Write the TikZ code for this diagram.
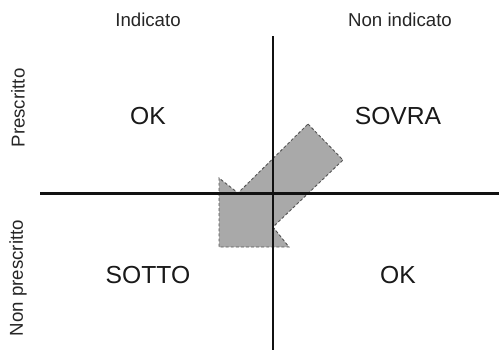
\documentclass[tikz,border=0pt]{standalone}
\usepackage{fontspec}
\setmainfont{Liberation Sans}
\usetikzlibrary{positioning,calc}
\definecolor{qaxis}{HTML}{111111}
\definecolor{qfill}{HTML}{A9A9A9}
\definecolor{qedge}{HTML}{555555}
\tikzset{
  head/.style={font=\fontsize{14}{16}\selectfont, text=black!85},
  side/.style={head, rotate=90},
  cell/.style={font=\fontsize{18.5}{20}\selectfont, text=black!90},
  axis/.style={draw=qaxis, line width=1.6pt},
  move/.style={fill=qfill, draw=qedge, line width=0.7pt, dash pattern=on 2.2pt off 1.6pt},
}

\begin{document}
\begin{tikzpicture}[x=0.75pt, y=-0.75pt]
  \useasboundingbox (0,0) rectangle (499,350);
  % column and row headings
  \node[head] (ind) at (148,20) {Indicato};
  \node[head] (nind) at (400,20) {Non indicato};
  \node[side] (pre) at (18,108) {Prescritto};
  \node[side] (npre) at (18,278) {Non prescritto};
  % quadrants
  \node[cell] (okA) at (148,116) {OK};
  \node[cell] (sovra) at (398,116) {SOVRA};
  \node[cell] (sotto) at (148,275) {SOTTO};
  \node[cell] (okB) at (398,275) {OK};

  % shift arrow
  \coordinate (tA) at (308,124);
  \coordinate (tB) at (343,160);
  \coordinate (sB) at (273,227);
  \coordinate (hB) at (289,247);
  \coordinate (tip) at (219,247);
  \coordinate (hA) at (219,178);
  \coordinate (sA) at (238,193);
  \draw[move] (tA) -- (tB) -- (sB) -- (hB) -- (tip) -- (hA) -- (sA) -- cycle;

  % axes
  \coordinate (xL) at (40,193.5);
  \coordinate (xR) at (499,193.5);
  \coordinate (yT) at (273,36);
  \coordinate (yB) at (273,350);
  \draw[axis] (xL) -- (xR);
  \draw[axis] (yT) -- (yB);
\end{tikzpicture}
\end{document}
